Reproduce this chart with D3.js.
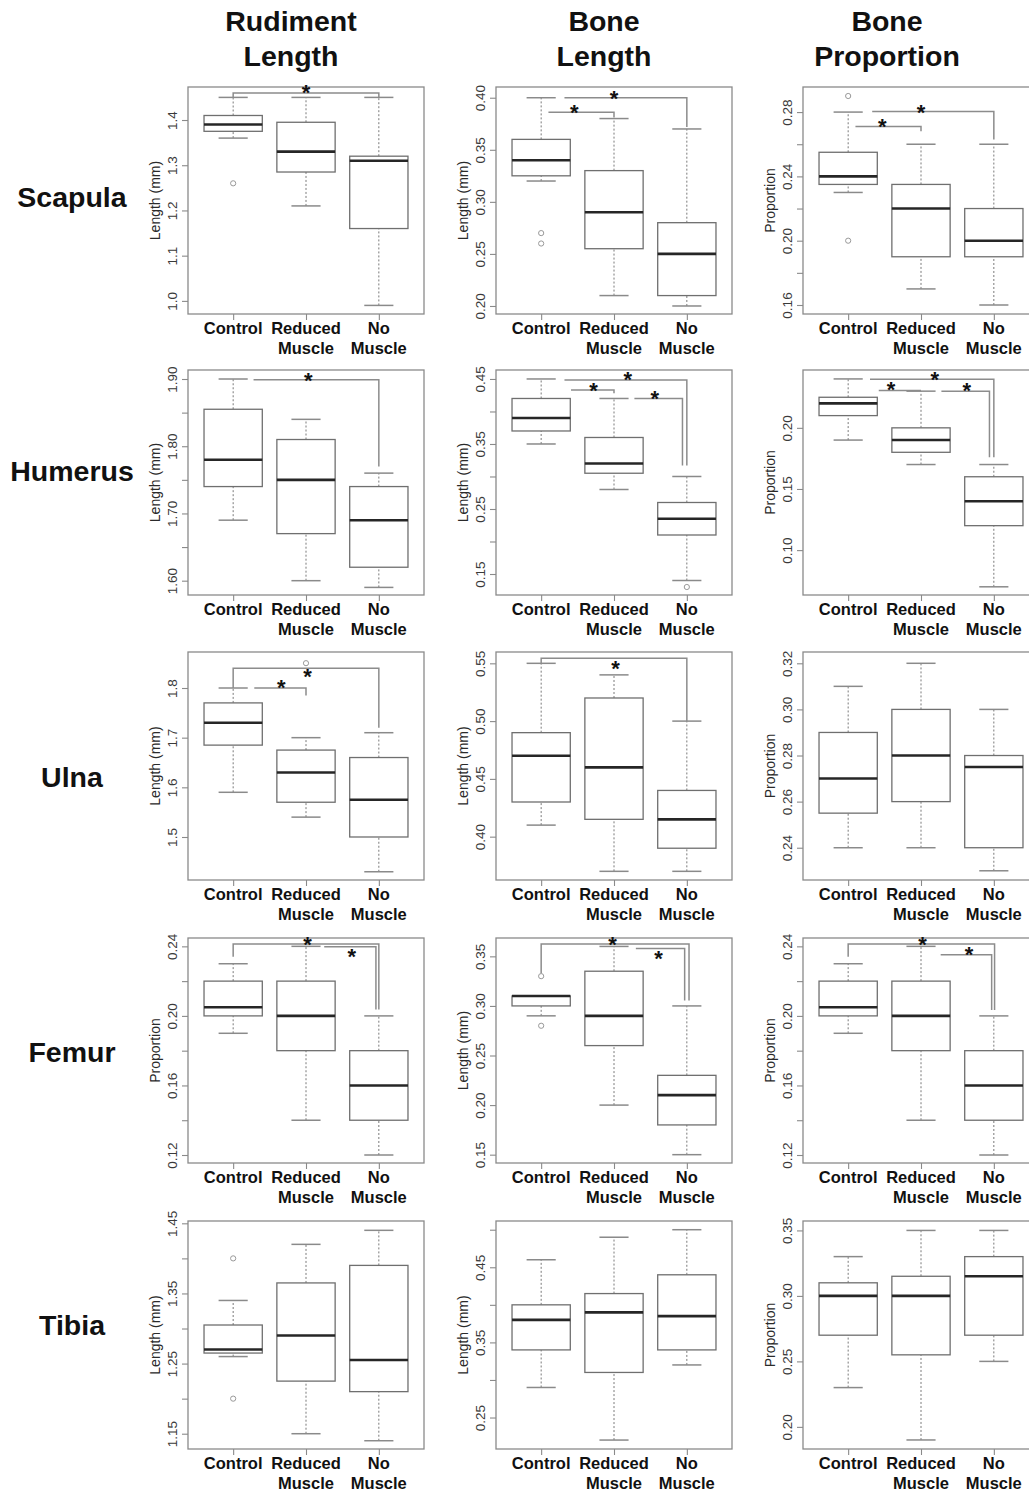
<!DOCTYPE html>
<html><head><meta charset="utf-8">
<script src="https://cdn.jsdelivr.net/npm/d3@7"></script>
<style>
body{margin:0;background:#fff}
svg{display:block}
text{font-family:"Liberation Sans",Arial,Helvetica,sans-serif}
</style>
</head><body>
<svg id="chart" width="1029" height="1492"></svg>
<script>
// ---------- categories & titles ----------
const groups = [["Control"], ["Reduced", "Muscle"], ["No", "Muscle"]];
const bones = ["Scapula", "Humerus", "Ulna", "Femur", "Tibia"];
const measures = [["Rudiment", "Length"], ["Bone", "Length"], ["Bone", "Proportion"]];
const yTitlesRudiment = ["Length (mm)", "Length (mm)", "Length (mm)", "Proportion", "Length (mm)"];
const yTitlesBone = ["Length (mm)", "Length (mm)", "Length (mm)", "Length (mm)", "Length (mm)"];
const yTitlesProportion = ["Proportion", "Proportion", "Proportion", "Proportion", "Proportion"];

// ---------- box statistics [low whisker, Q1, median, Q3, high whisker] per group ----------
const scapulaRudiment = [[1.36, 1.375, 1.39, 1.41, 1.45], [1.21, 1.285, 1.33, 1.395, 1.45], [0.99, 1.16, 1.31, 1.32, 1.45]];
const scapulaBone = [[0.32, 0.325, 0.34, 0.36, 0.40], [0.21, 0.255, 0.29, 0.33, 0.38], [0.20, 0.21, 0.25, 0.28, 0.37]];
const scapulaProp = [[0.23, 0.235, 0.24, 0.255, 0.28], [0.17, 0.19, 0.22, 0.235, 0.26], [0.16, 0.19, 0.20, 0.22, 0.26]];
const humerusRudiment = [[1.69, 1.74, 1.78, 1.855, 1.90], [1.60, 1.67, 1.75, 1.81, 1.84], [1.59, 1.62, 1.69, 1.74, 1.76]];
const humerusBone = [[0.35, 0.37, 0.39, 0.42, 0.45], [0.28, 0.305, 0.32, 0.36, 0.42], [0.14, 0.21, 0.235, 0.26, 0.30]];
const humerusProp = [[0.19, 0.21, 0.22, 0.225, 0.24], [0.17, 0.18, 0.19, 0.20, 0.23], [0.07, 0.12, 0.14, 0.16, 0.17]];
const ulnaRudiment = [[1.59, 1.685, 1.73, 1.77, 1.80], [1.54, 1.57, 1.63, 1.675, 1.70], [1.43, 1.50, 1.575, 1.66, 1.71]];
const ulnaBone = [[0.41, 0.43, 0.47, 0.49, 0.55], [0.37, 0.415, 0.46, 0.52, 0.54], [0.37, 0.39, 0.415, 0.44, 0.50]];
const ulnaProp = [[0.24, 0.255, 0.27, 0.29, 0.31], [0.24, 0.26, 0.28, 0.30, 0.32], [0.23, 0.24, 0.275, 0.28, 0.30]];
const femurRudiment = [[0.19, 0.20, 0.205, 0.22, 0.23], [0.14, 0.18, 0.20, 0.22, 0.24], [0.12, 0.14, 0.16, 0.18, 0.20]];
const femurBone = [[0.29, 0.30, 0.31, 0.31, 0.31], [0.20, 0.26, 0.29, 0.335, 0.36], [0.15, 0.18, 0.21, 0.23, 0.30]];
const femurProp = [[0.19, 0.20, 0.205, 0.22, 0.23], [0.14, 0.18, 0.20, 0.22, 0.24], [0.12, 0.14, 0.16, 0.18, 0.20]];
const tibiaRudiment = [[1.26, 1.265, 1.27, 1.305, 1.34], [1.15, 1.225, 1.29, 1.365, 1.42], [1.14, 1.21, 1.255, 1.39, 1.44]];
const tibiaBone = [[0.29, 0.34, 0.38, 0.40, 0.46], [0.22, 0.31, 0.39, 0.415, 0.49], [0.32, 0.34, 0.385, 0.44, 0.50]];
const tibiaProp = [[0.23, 0.27, 0.30, 0.31, 0.33], [0.19, 0.255, 0.30, 0.315, 0.35], [0.25, 0.27, 0.315, 0.33, 0.35]];

// ---------- outliers per group ----------
const scapulaRudimentOut = [[1.26], [], []];
const scapulaBoneOut = [[0.27, 0.26], [], []];
const scapulaPropOut = [[0.29, 0.20], [], []];
const humerusBoneOut = [[], [], [0.13]];
const ulnaRudimentOut = [[], [1.85], []];
const femurBoneOut = [[0.33, 0.28], [], []];
const tibiaRudimentOut = [[1.40, 1.20], [], []];
const noOut = [[], [], []];

// ---------- significance brackets (group units / data units) ----------
const scapulaRudimentSig = [{x1: 1, x2: 3, y: 1.46, y1: 1.45, y2: 1.45, sx: 2.0, sy: 1.47}];
const scapulaBoneSig = [
  {x1: 1.1, x2: 2, y: 0.386, y1: null, y2: 0.381, sx: 1.455, sy: 0.390},
  {x1: 1.32, x2: 3, y: 0.40, y1: null, y2: 0.372, sx: 2.0, sy: 0.4036}];
const scapulaPropSig = [
  {x1: 1.1, x2: 2, y: 0.271, y1: null, y2: 0.268, sx: 1.47, sy: 0.2741},
  {x1: 1.33, x2: 3, y: 0.2803, y1: null, y2: 0.263, sx: 2.0, sy: 0.2825}];
const humerusRudimentSig = [{x1: 1.28, x2: 3, y: 1.899, y1: null, y2: 1.77, sx: 2.03, sy: 1.9045}];
const humerusBoneSig = [
  {x1: 1.41, x2: 2, y: 0.433, y1: null, y2: 0.428, sx: 1.72, sy: 0.4393},
  {x1: 1.32, x2: 3, y: 0.4485, y1: null, y2: 0.317, sx: 2.19, sy: 0.4561},
  {x1: 2.28, x2: 2.94, y: 0.42, y1: null, y2: 0.317, sx: 2.56, sy: 0.427}];
const humerusPropSig = [
  {x1: 1.42, x2: 2, y: 0.2305, y1: null, y2: null, sx: 1.59, sy: 0.235},
  {x1: 1.30, x2: 3, y: 0.2397, y1: null, y2: 0.176, sx: 2.19, sy: 0.2434},
  {x1: 2.28, x2: 2.94, y: 0.23, y1: null, y2: 0.176, sx: 2.63, sy: 0.2342}];
const ulnaRudimentSig = [
  {x1: 1, x2: 3, y: 1.84, y1: 1.80, y2: 1.72, sx: 2.02, sy: 1.8316},
  {x1: 1.29, x2: 2, y: 1.80, y1: null, y2: 1.785, sx: 1.66, sy: 1.8107}];
const ulnaBoneSig = [{x1: 1, x2: 3, y: 0.5543, y1: 0.55, y2: 0.50, sx: 2.02, sy: 0.549}];
const femurRudimentSig = [
  {x1: 1, x2: 3, y: 0.2413, y1: 0.234, y2: 0.2037, sx: 2.02, sy: 0.2436},
  {x1: 2.25, x2: 2.96, y: 0.2398, y1: null, y2: 0.2037, sx: 2.63, sy: 0.2369}];
const femurBoneSig = [
  {x1: 1, x2: 3.03, y: 0.3624, y1: 0.333, y2: 0.3055, sx: 1.98, sy: 0.3668},
  {x1: 2.3, x2: 2.97, y: 0.3579, y1: null, y2: 0.3055, sx: 2.61, sy: 0.3524}];
const femurPropSig = [
  {x1: 1, x2: 3.01, y: 0.2413, y1: 0.234, y2: 0.2034, sx: 2.02, sy: 0.2436},
  {x1: 2.27, x2: 2.97, y: 0.2351, y1: null, y2: 0.2034, sx: 2.66, sy: 0.2379}];

// ---------- y axis domains, ticks and tick labels ----------
const scapulaRudimentDomain = [0.971, 1.473], scapulaRudimentTicks = [1.0, 1.1, 1.2, 1.3, 1.4], scapulaRudimentLabels = ["1.0", "1.1", "1.2", "1.3", "1.4"];
const scapulaBoneDomain = [0.1923, 0.4103], scapulaBoneTicks = [0.20, 0.25, 0.30, 0.35, 0.40], scapulaBoneLabels = ["0.20", "0.25", "0.30", "0.35", "0.40"];
const scapulaPropDomain = [0.1544, 0.2956], scapulaPropTicks = [0.16, 0.18, 0.20, 0.22, 0.24, 0.26, 0.28], scapulaPropLabels = ["0.16", "0.20", "0.24", "0.28"];
const humerusRudimentDomain = [1.5787, 1.9134], humerusRudimentTicks = [1.60, 1.65, 1.70, 1.75, 1.80, 1.85, 1.90], humerusRudimentLabels = ["1.60", "1.70", "1.80", "1.90"];
const humerusBoneDomain = [0.1177, 0.4638], humerusBoneTicks = [0.15, 0.20, 0.25, 0.30, 0.35, 0.40, 0.45], humerusBoneLabels = ["0.15", "0.25", "0.35", "0.45"];
const humerusPropDomain = [0.0633, 0.2473], humerusPropTicks = [0.10, 0.15, 0.20], humerusPropLabels = ["0.10", "0.15", "0.20"];
const ulnaRudimentDomain = [1.4134, 1.8725], ulnaRudimentTicks = [1.5, 1.6, 1.7, 1.8], ulnaRudimentLabels = ["1.5", "1.6", "1.7", "1.8"];
const ulnaBoneDomain = [0.3625, 0.5598], ulnaBoneTicks = [0.40, 0.45, 0.50, 0.55], ulnaBoneLabels = ["0.40", "0.45", "0.50", "0.55"];
const ulnaPropDomain = [0.226, 0.3249], ulnaPropTicks = [0.24, 0.26, 0.28, 0.30, 0.32], ulnaPropLabels = ["0.24", "0.26", "0.28", "0.30", "0.32"];
const femurRudimentDomain = [0.1154, 0.2448], femurRudimentTicks = [0.12, 0.14, 0.16, 0.18, 0.20, 0.22, 0.24], femurRudimentLabels = ["0.12", "0.16", "0.20", "0.24"];
const femurBoneDomain = [0.1416, 0.3685], femurBoneTicks = [0.15, 0.20, 0.25, 0.30, 0.35], femurBoneLabels = ["0.15", "0.20", "0.25", "0.30", "0.35"];
const femurPropDomain = [0.1154, 0.2448], femurPropTicks = [0.12, 0.14, 0.16, 0.18, 0.20, 0.22, 0.24], femurPropLabels = ["0.12", "0.16", "0.20", "0.24"];
const tibiaRudimentDomain = [1.1282, 1.4533], tibiaRudimentTicks = [1.15, 1.20, 1.25, 1.30, 1.35, 1.40, 1.45], tibiaRudimentLabels = ["1.15", "1.25", "1.35", "1.45"];
const tibiaBoneDomain = [0.2081, 0.5116], tibiaBoneTicks = [0.25, 0.30, 0.35, 0.40, 0.45, 0.50], tibiaBoneLabels = ["0.25", "0.35", "0.45"];
const tibiaPropDomain = [0.1831, 0.3572], tibiaPropTicks = [0.20, 0.25, 0.30, 0.35], tibiaPropLabels = ["0.20", "0.25", "0.30", "0.35"];

// ---------- assemble panels ----------
const panels = [
  {row: 0, col: 0, stats: scapulaRudiment, out: scapulaRudimentOut, sig: scapulaRudimentSig, domain: scapulaRudimentDomain, ticks: scapulaRudimentTicks, labels: scapulaRudimentLabels},
  {row: 0, col: 1, stats: scapulaBone, out: scapulaBoneOut, sig: scapulaBoneSig, domain: scapulaBoneDomain, ticks: scapulaBoneTicks, labels: scapulaBoneLabels},
  {row: 0, col: 2, stats: scapulaProp, out: scapulaPropOut, sig: scapulaPropSig, domain: scapulaPropDomain, ticks: scapulaPropTicks, labels: scapulaPropLabels},
  {row: 1, col: 0, stats: humerusRudiment, out: noOut, sig: humerusRudimentSig, domain: humerusRudimentDomain, ticks: humerusRudimentTicks, labels: humerusRudimentLabels},
  {row: 1, col: 1, stats: humerusBone, out: humerusBoneOut, sig: humerusBoneSig, domain: humerusBoneDomain, ticks: humerusBoneTicks, labels: humerusBoneLabels},
  {row: 1, col: 2, stats: humerusProp, out: noOut, sig: humerusPropSig, domain: humerusPropDomain, ticks: humerusPropTicks, labels: humerusPropLabels},
  {row: 2, col: 0, stats: ulnaRudiment, out: ulnaRudimentOut, sig: ulnaRudimentSig, domain: ulnaRudimentDomain, ticks: ulnaRudimentTicks, labels: ulnaRudimentLabels},
  {row: 2, col: 1, stats: ulnaBone, out: noOut, sig: ulnaBoneSig, domain: ulnaBoneDomain, ticks: ulnaBoneTicks, labels: ulnaBoneLabels},
  {row: 2, col: 2, stats: ulnaProp, out: noOut, sig: [], domain: ulnaPropDomain, ticks: ulnaPropTicks, labels: ulnaPropLabels},
  {row: 3, col: 0, stats: femurRudiment, out: noOut, sig: femurRudimentSig, domain: femurRudimentDomain, ticks: femurRudimentTicks, labels: femurRudimentLabels},
  {row: 3, col: 1, stats: femurBone, out: femurBoneOut, sig: femurBoneSig, domain: femurBoneDomain, ticks: femurBoneTicks, labels: femurBoneLabels},
  {row: 3, col: 2, stats: femurProp, out: noOut, sig: femurPropSig, domain: femurPropDomain, ticks: femurPropTicks, labels: femurPropLabels},
  {row: 4, col: 0, stats: tibiaRudiment, out: tibiaRudimentOut, sig: [], domain: tibiaRudimentDomain, ticks: tibiaRudimentTicks, labels: tibiaRudimentLabels},
  {row: 4, col: 1, stats: tibiaBone, out: noOut, sig: [], domain: tibiaBoneDomain, ticks: tibiaBoneTicks, labels: tibiaBoneLabels},
  {row: 4, col: 2, stats: tibiaProp, out: noOut, sig: [], domain: tibiaPropDomain, ticks: tibiaPropTicks, labels: tibiaPropLabels}
];
const yTitleCols = [yTitlesRudiment, yTitlesBone, yTitlesProportion];

// ---------- layout ----------
const colLeft = [188, 496, 803];
const plotW = 236;
const rowTop = [87, 370, 652, 938, 1221];
const rowBottom = [314, 595, 880, 1163, 1449];
const titleX = [291, 604, 887];
const rowLabelY = [207, 481, 787, 1062, 1335];

const svg = d3.select("#chart");
svg.append("rect").attr("width", 1029).attr("height", 1492).attr("fill", "#fff");

// column titles
measures.forEach((lines, c) => {
  const t = svg.append("text").attr("text-anchor", "middle")
    .attr("font-size", 28.5).attr("font-weight", "bold").attr("fill", "#111");
  lines.forEach((l, i) => t.append("tspan").attr("x", titleX[c]).attr("y", 31 + i * 35).text(l));
});
// row labels
bones.forEach((b, r) => {
  svg.append("text").attr("x", 72).attr("y", rowLabelY[r]).attr("text-anchor", "middle")
    .attr("font-size", 28.5).attr("font-weight", "bold").attr("fill", "#111").text(b);
});

const frameCol = "#8a8a8a", boxCol = "#6f6f6f", whiskCol = "#7a7a7a";

panels.forEach(p => {
  const x0 = colLeft[p.col], x1 = x0 + plotW;
  const y0 = rowTop[p.row], y1 = rowBottom[p.row];
  const x = d3.scaleLinear().domain([0.38, 3.62]).range([x0, x1]);
  const y = d3.scaleLinear().domain(p.domain).range([y1, y0]);
  const dec = p.labels[0].split(".")[1].length;
  const fmt = d3.format("." + dec + "f");
  const g = svg.append("g");

  // y axis
  const ya = g.append("g").attr("transform", `translate(${x0},0)`)
    .call(d3.axisLeft(y).tickValues(p.ticks).tickSize(6).tickPadding(0)
      .tickFormat(d => p.labels.includes(fmt(d)) ? fmt(d) : ""));
  ya.select(".domain").remove();
  ya.selectAll(".tick line").attr("stroke", frameCol).attr("stroke-width", 1.1);
  ya.selectAll(".tick text").attr("transform", "rotate(-90)").attr("x", 0).attr("y", -11)
    .attr("dy", 0).attr("text-anchor", "middle").attr("font-size", 13.5)
    .attr("font-family", "'Liberation Sans',Arial,sans-serif").attr("fill", "#3a3a3a");

  // x axis
  const xa = g.append("g").attr("transform", `translate(0,${y1})`)
    .call(d3.axisBottom(x).tickValues([1, 2, 3]).tickSize(6).tickFormat(""));
  xa.select(".domain").remove();
  xa.selectAll(".tick line").attr("stroke", frameCol).attr("stroke-width", 1.1);
  groups.forEach((lines, i) => {
    const t = g.append("text").attr("text-anchor", "middle").attr("font-size", 16.5)
      .attr("font-weight", "bold").attr("fill", "#111");
    lines.forEach((l, k) => t.append("tspan").attr("x", x(i + 1)).attr("y", y1 + 20 + k * 20).text(l));
  });

  // y title
  g.append("text").attr("transform", `translate(${x0 - 28},${(y0 + y1) / 2}) rotate(-90)`)
    .attr("text-anchor", "middle").attr("font-size", 14).attr("fill", "#2a2a2a")
    .text(yTitleCols[p.col][p.row]);

  // frame
  g.append("rect").attr("x", x0).attr("y", y0).attr("width", plotW).attr("height", y1 - y0)
    .attr("fill", "none").attr("stroke", frameCol).attr("stroke-width", 1.3);

  // boxes
  p.stats.forEach((s, i) => {
    const c = i + 1;
    g.append("line").attr("x1", x(c)).attr("x2", x(c)).attr("y1", y(s[0])).attr("y2", y(s[1]))
      .attr("stroke", whiskCol).attr("stroke-width", 1).attr("stroke-dasharray", "2,2");
    g.append("line").attr("x1", x(c)).attr("x2", x(c)).attr("y1", y(s[3])).attr("y2", y(s[4]))
      .attr("stroke", whiskCol).attr("stroke-width", 1).attr("stroke-dasharray", "2,2");
    [s[0], s[4]].forEach(v => g.append("line").attr("x1", x(c - 0.2)).attr("x2", x(c + 0.2))
      .attr("y1", y(v)).attr("y2", y(v)).attr("stroke", "#8a8a8a").attr("stroke-width", 1.5));
    g.append("rect").attr("x", x(c - 0.4)).attr("width", x(c + 0.4) - x(c - 0.4))
      .attr("y", y(s[3])).attr("height", Math.max(0.5, y(s[1]) - y(s[3])))
      .attr("fill", "#fff").attr("stroke", boxCol).attr("stroke-width", 1.3);
    g.append("line").attr("x1", x(c - 0.4)).attr("x2", x(c + 0.4)).attr("y1", y(s[2])).attr("y2", y(s[2]))
      .attr("stroke", "#262626").attr("stroke-width", 2.6);
    p.out[i].forEach(v => g.append("circle").attr("cx", x(c)).attr("cy", y(v)).attr("r", 2.6)
      .attr("fill", "none").attr("stroke", "#999").attr("stroke-width", 1));
  });

  // significance brackets
  p.sig.forEach(b => {
    let d = (b.y1 != null) ? `M${x(b.x1)},${y(b.y1)}V${y(b.y)}` : `M${x(b.x1)},${y(b.y)}`;
    d += `H${x(b.x2)}`;
    if (b.y2 != null) d += `V${y(b.y2)}`;
    g.append("path").attr("d", d).attr("fill", "none").attr("stroke", "#8c8c8c").attr("stroke-width", 1.5);
    g.append("text").attr("x", x(b.sx)).attr("y", y(b.sy) + 12).attr("text-anchor", "middle")
      .attr("font-size", 22).attr("font-weight", "bold").attr("fill", "#111").text("*");
  });
});
</script>
</body></html>
